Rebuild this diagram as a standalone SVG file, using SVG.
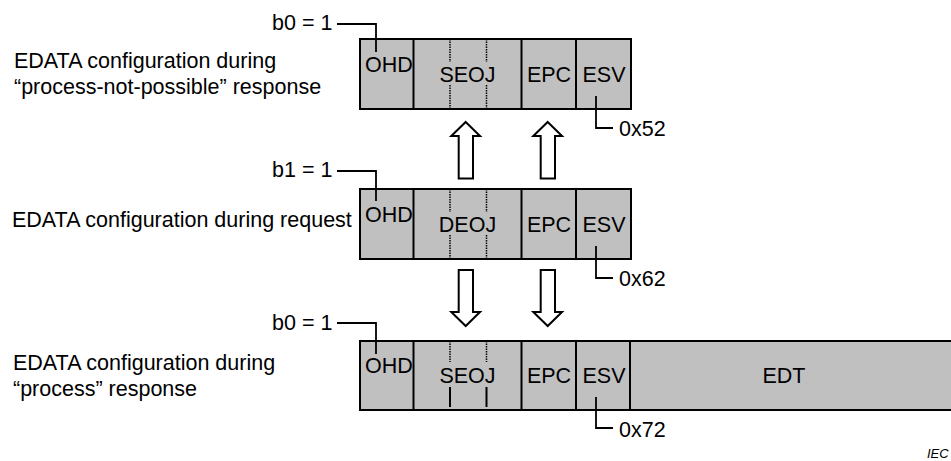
<svg xmlns="http://www.w3.org/2000/svg" width="951" height="461" viewBox="0 0 951 461">
<style>
text{font-family:"Liberation Sans",Arial,sans-serif;font-size:21.5px;fill:#000}
.box{fill:#c0c0c0;stroke:#000;stroke-width:2}
.div{stroke:#000;stroke-width:2;fill:none}
.dot{stroke:#000;stroke-width:1.5;stroke-dasharray:1.5 1;fill:none}
.lead{stroke:#000;stroke-width:1.8;fill:none}
.arr{fill:#fff;stroke:#000;stroke-width:2;stroke-linejoin:miter}
.mid{text-anchor:middle}
</style>
<rect width="951" height="461" fill="#fff"/>
<g id="cap1">
<text x="14" y="68">EDATA configuration during</text>
<text x="14" y="94">“process-not-possible” response</text>
</g>
<g id="cap2">
<text x="12" y="227">EDATA configuration during request</text>
</g>
<g id="cap3">
<text x="13" y="370">EDATA configuration during</text>
<text x="13" y="396">“process” response</text>
</g>
<g id="frame1">
<rect class="box" x="360" y="39" width="271" height="70"/>
<path class="div" d="M413.5 39V109M521.5 39V109M576 39V109"/>
<path class="dot" d="M450 39V62M450 85V109M486.5 39V62M486.5 85V109"/>
<text x="365" y="72">OHD</text>
<text class="mid" x="467.5" y="82">SEOJ</text>
<text class="mid" x="549" y="82">EPC</text>
<text class="mid" x="604" y="82">ESV</text>
</g>
<g id="frame2">
<rect class="box" x="360" y="189" width="271" height="70"/>
<path class="div" d="M413.5 189V259M521.5 189V259M576 189V259"/>
<path class="dot" d="M450 189V212M450 235V259M486.5 189V212M486.5 235V259"/>
<text x="365" y="222">OHD</text>
<text class="mid" x="467.5" y="232">DEOJ</text>
<text class="mid" x="549" y="232">EPC</text>
<text class="mid" x="604" y="232">ESV</text>
</g>
<g id="frame3">
<rect class="box" x="360" y="341" width="600" height="69"/>
<path class="div" d="M413.5 341V410M521.5 341V410M576 341V410M630 341V410"/>
<path class="dot" d="M450 341V362M486.5 341V362"/>
<path class="div" d="M450 387V407M486.5 387V407" stroke-width="1.2"/>
<text x="365" y="373">OHD</text>
<text class="mid" x="467.5" y="383">SEOJ</text>
<text class="mid" x="549" y="383">EPC</text>
<text class="mid" x="604" y="383">ESV</text>
<text class="mid" x="784" y="383">EDT</text>
</g>
<g id="labels">
<text x="272" y="30">b0 = 1</text>
<text x="272" y="177">b1 = 1</text>
<text x="272" y="330">b0 = 1</text>
<text x="619" y="136">0x52</text>
<text x="619" y="286">0x62</text>
<text x="619" y="437">0x72</text>
<text x="927" y="458" style="font-size:13px;font-style:italic">IEC</text>
</g>
<g id="connectors">
<path class="lead" d="M337 24H376V52"/>
<path class="lead" d="M337 171H376V201"/>
<path class="lead" d="M337 323H376V354"/>
<path class="lead" d="M596 96V128H613"/>
<path class="lead" d="M596 246V278H613"/>
<path class="lead" d="M596 397V428H613"/>
<path class="arr" d="M465.7 122L480 136H473V178.5H458.7V136H451.3Z"/>
<path class="arr" d="M547.7 122L562 136H555V178.5H540.7V136H533.3Z"/>
<path class="arr" d="M458.7 270H473V312H480L465.7 326L451.3 312H458.7Z"/>
<path class="arr" d="M540.7 270H555V312H562L547.7 326L533.3 312H540.7Z"/>
</g>
</svg>
